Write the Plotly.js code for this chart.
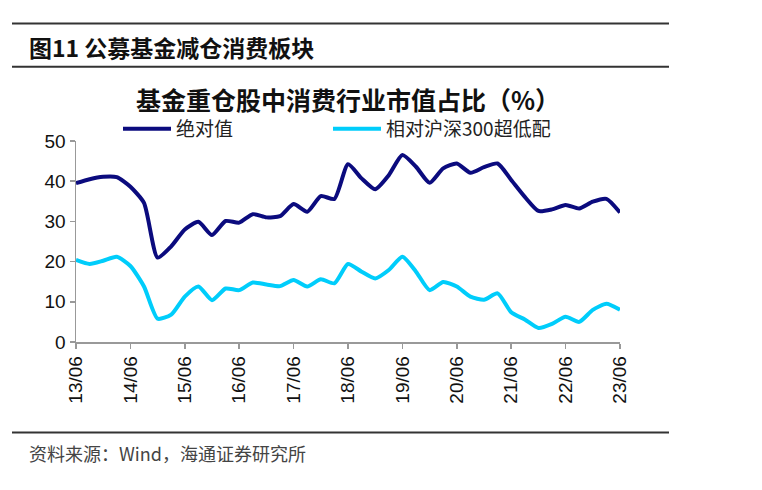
<!DOCTYPE html>
<html>
<head>
<meta charset="utf-8">
<script src="https://cdn.plot.ly/plotly-3.0.1.min.js"></script>
<style>html,body{margin:0;padding:0;background:#fff;}#chart{width:762px;height:490px;}</style>
</head>
<body>
<div id="chart"></div>
<script>
// Quarter-end labels (YY/MM), 2013 Q2 .. 2023 Q2
var quarters = ["13/06","13/09","13/12","14/03","14/06","14/09","14/12","15/03","15/06","15/09","15/12","16/03","16/06","16/09","16/12","17/03","17/06","17/09","17/12","18/03","18/06","18/09","18/12","19/03","19/06","19/09","19/12","20/03","20/06","20/09","20/12","21/03","21/06","21/09","21/12","22/03","22/06","22/09","22/12","23/03","23/06"];
var tickLabels = ["13/06","14/06","15/06","16/06","17/06","18/06","19/06","20/06","21/06","22/06","23/06"];
var absoluteShare = [39.5,40.5,41.1,41.0,38.6,34.6,21.0,23.8,28.0,29.9,26.6,30.1,29.7,31.8,31.0,31.3,34.3,32.4,36.3,35.6,44.2,40.7,38.0,41.5,46.5,43.6,39.6,43.2,44.4,42.1,43.5,44.4,40.3,36.1,32.6,33.0,34.1,33.2,34.9,35.6,32.2];
var relativeOverweight = [20.4,19.4,20.2,21.2,18.9,13.8,5.8,6.8,11.3,13.8,10.4,13.3,12.9,14.8,14.3,13.9,15.4,13.8,15.6,14.6,19.4,17.5,15.8,17.9,21.2,17.5,12.9,14.9,13.8,11.3,10.5,12.1,7.4,5.6,3.5,4.5,6.3,5.0,8.0,9.5,8.0];
var seriesNames = ["绝对值","相对沪深300超低配"];
var yTicks = [0,10,20,30,40,50];

var cjk = '"Noto Sans CJK SC", "Noto Sans", sans-serif';
var latin = '"Liberation Sans", Arial, sans-serif';

var traces = [
  {x: quarters, y: absoluteShare, name: seriesNames[0], type: 'scatter', mode: 'lines', legend: 'legend',
   line: {color: '#0b0b7e', width: 4, shape: 'spline', smoothing: 0.6}},
  {x: quarters, y: relativeOverweight, name: seriesNames[1], type: 'scatter', mode: 'lines', legend: 'legend2',
   line: {color: '#00cdfb', width: 4, shape: 'spline', smoothing: 0.6}}
];

var L = 76, R = 620, T = 141, B = 342;
var W = R - L, H = B - T;
function px(X){ return (X - L) / W; }
function py(Y){ return (B - Y) / H; }

function legendAt(X){
  return {orientation: 'h', x: px(X), y: py(129), xanchor: 'left', yanchor: 'middle',
          font: {family: cjk, size: 19, color: '#222'}, itemwidth: 48, bgcolor: 'rgba(0,0,0,0)'};
}

var layout = {
  width: 762, height: 490,
  margin: {l: L, r: 762 - R, t: T, b: 490 - B, pad: 0},
  paper_bgcolor: '#ffffff', plot_bgcolor: '#ffffff',
  showlegend: true,
  legend: legendAt(118),
  legend2: legendAt(328),
  title: {text: '<b>基金重仓股中消费行业市值占比（%）</b>', xref: 'container', yref: 'container',
          x: 348 / 762, y: 1 - 101 / 490, xanchor: 'center', yanchor: 'middle',
          font: {family: cjk, size: 25, color: '#111'}},
  xaxis: {type: 'category', range: [0, quarters.length - 1], tickmode: 'array', tickvals: tickLabels, ticktext: tickLabels,
          tickangle: -90, ticks: 'outside', ticklen: 5, tickcolor: '#999', tickwidth: 1.5,
          showline: true, linecolor: '#999', linewidth: 1.5, showgrid: false, zeroline: false,
          tickfont: {family: latin, size: 19, color: '#111'}, fixedrange: true},
  yaxis: {range: [0, 50], tickmode: 'array', tickvals: yTicks, ticks: 'outside', ticklen: 5,
          tickcolor: '#999', tickwidth: 1.5, showline: true, linecolor: '#999', linewidth: 1.5,
          showgrid: false, zeroline: false, tickfont: {family: latin, size: 19, color: '#111'}, fixedrange: true},
  shapes: [
    {type: 'line', xref: 'paper', yref: 'paper', x0: px(12), x1: px(669), y0: py(23.5), y1: py(23.5), line: {color: '#333', width: 2}},
    {type: 'line', xref: 'paper', yref: 'paper', x0: px(12), x1: px(669), y0: py(66.7), y1: py(66.7), line: {color: '#333', width: 2}},
    {type: 'line', xref: 'paper', yref: 'paper', x0: px(12), x1: px(669), y0: py(432.5), y1: py(432.5), line: {color: '#333', width: 2}}
  ],
  annotations: [
    {text: '<b>图11 公募基金减仓消费板块</b>', xref: 'paper', yref: 'paper', x: px(27), y: py(47), xanchor: 'left', yanchor: 'middle',
     showarrow: false, font: {family: cjk, size: 23, color: '#111'}},
    {text: '资料来源：Wind，海通证券研究所', xref: 'paper', yref: 'paper', x: px(27), y: py(453), xanchor: 'left', yanchor: 'middle',
     showarrow: false, font: {family: cjk, size: 18, color: '#444'}}
  ]
};

Plotly.newPlot('chart', traces, layout, {displayModeBar: false, staticPlot: true});
</script>
</body>
</html>
